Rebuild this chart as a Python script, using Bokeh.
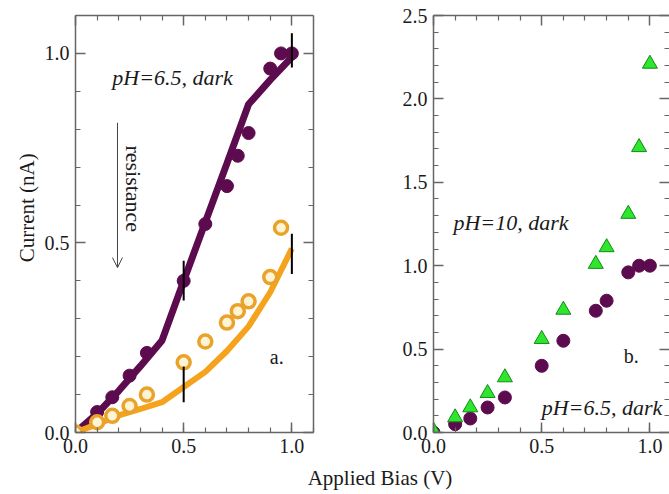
import math
from bokeh.plotting import figure
from bokeh.layouts import row, column
from bokeh.models import (Range1d, LinearAxis, Label, Arrow, OpenHead,
                          SingleIntervalTicker, FixedTicker, PrintfTickFormatter)
from bokeh.embed import file_html
from bokeh.resources import INLINE

# ---------------- data: panel a ----------------
a_purple_x = [0.0, 0.1, 0.17, 0.25, 0.33, 0.5, 0.6, 0.7, 0.75, 0.8, 0.9, 0.95, 1.0]
a_purple_y = [0.0, 0.054, 0.093, 0.15, 0.21, 0.40, 0.55, 0.65, 0.73, 0.79, 0.96, 1.0, 1.0]
a_orange_x = [0.0, 0.1, 0.17, 0.25, 0.33, 0.5, 0.6, 0.7, 0.75, 0.8, 0.9, 0.95]
a_orange_y = [0.0, 0.027, 0.044, 0.07, 0.10, 0.185, 0.24, 0.29, 0.32, 0.346, 0.41, 0.54]
fit_x = [0.0, 0.1, 0.2, 0.3, 0.4, 0.5, 0.6, 0.7, 0.8, 0.9, 1.0]
fit_purple_y = [0.0, 0.05, 0.11, 0.175, 0.243, 0.40, 0.555, 0.71, 0.866, 0.93, 0.99]
fit_orange_y = [0.0, 0.022, 0.045, 0.062, 0.08, 0.12, 0.16, 0.215, 0.28, 0.37, 0.485]
err_x = [0.5, 1.0, 0.5, 1.0]
err_lo = [0.348, 0.963, 0.08, 0.418]
err_hi = [0.453, 1.053, 0.174, 0.524]

# ---------------- data: panel b ----------------
b_purple_x = [0.0, 0.1, 0.17, 0.25, 0.33, 0.5, 0.6, 0.75, 0.8, 0.9, 0.95, 1.0]
b_purple_y = [0.0, 0.05, 0.084, 0.15, 0.21, 0.40, 0.55, 0.73, 0.79, 0.96, 1.0, 1.0]
b_green_x = [0.0, 0.1, 0.17, 0.25, 0.33, 0.5, 0.6, 0.75, 0.8, 0.9, 0.95, 1.0]
b_green_y = [0.01, 0.09, 0.15, 0.236, 0.33, 0.56, 0.735, 1.01, 1.11, 1.31, 1.71, 2.21]

# tick positions for the unlabelled (top / right) frame sides
x_major_ticks = [0.0, 0.5, 1.0]
x_minor_ticks = [0.1, 0.2, 0.3, 0.4, 0.6, 0.7, 0.8, 0.9]
ya_major_ticks = [0.0, 0.5, 1.0]
ya_minor_ticks = [0.1, 0.2, 0.3, 0.4, 0.6, 0.7, 0.8, 0.9]
yb_major_ticks = [0.0, 0.5, 1.0, 1.5, 2.0, 2.5]
yb_minor_ticks = [0.1, 0.2, 0.3, 0.4, 0.6, 0.7, 0.8, 0.9, 1.1, 1.2, 1.3, 1.4,
                  1.6, 1.7, 1.8, 1.9, 2.1, 2.2, 2.3, 2.4]

PURPLE = "#5c0c4e"
ORANGE = "#f5a21c"
GREEN = "#2ee62e"
FRAME = "#666666"
FONT = "Liberation Serif"
TXT = "#1a1a1a"


def label_axis(interval=0.5):
    ax = LinearAxis(ticker=SingleIntervalTicker(interval=interval, num_minor_ticks=5),
                    formatter=PrintfTickFormatter(format="%.1f"))
    ax.axis_line_color = FRAME
    ax.axis_line_width = 1.5
    ax.major_tick_in = 10
    ax.major_tick_out = 0
    ax.minor_tick_in = 5
    ax.minor_tick_out = 0
    ax.major_tick_line_color = FRAME
    ax.minor_tick_line_color = FRAME
    ax.major_tick_line_width = 1.5
    ax.minor_tick_line_width = 1.2
    ax.major_label_text_font = FONT
    ax.major_label_text_color = TXT
    ax.major_label_text_font_size = "20px"
    ax.major_label_standoff = 6
    return ax


def tick_axis(positions, length, line=True):
    ax = LinearAxis(ticker=FixedTicker(ticks=[], minor_ticks=positions))
    ax.axis_line_color = FRAME if line else None
    ax.axis_line_width = 1.5
    ax.major_tick_in = 0
    ax.major_tick_out = 0
    ax.minor_tick_in = length
    ax.minor_tick_out = 0
    ax.minor_tick_line_color = FRAME
    ax.minor_tick_line_width = 1.5 if length > 6 else 1.2
    ax.major_label_standoff = 0
    return ax


def make_fig(width, xr, yr, bl, br):
    p = figure(width=width, height=462, x_range=xr, y_range=yr,
               toolbar_location=None, output_backend="svg",
               x_axis_type=None, y_axis_type=None,
               min_border_left=bl, min_border_right=br,
               min_border_top=15, min_border_bottom=30)
    p.outline_line_color = None
    p.background_fill_color = "white"
    p.border_fill_color = "white"
    return p


def text_strip(width, height):
    p = figure(width=width, height=height, x_range=Range1d(0, width),
               y_range=Range1d(0, height), toolbar_location=None,
               output_backend="svg", x_axis_type=None, y_axis_type=None,
               min_border=0)
    p.outline_line_color = None
    return p


# ---------------- y-axis title strip ----------------
p0 = text_strip(40, 462)
p0.add_layout(Label(x=26, y=462 - 213, text="Current (nA)", text_font=FONT,
                    text_font_size="21px", angle=math.pi / 2,
                    text_align="center", text_baseline="middle", text_color=TXT))

# ---------------- panel a ----------------
p1 = make_fig(340, Range1d(0, 1.1), Range1d(0, 1.1), 35, 67)
p1.add_layout(label_axis(), "left")
p1.add_layout(label_axis(), "below")
p1.add_layout(tick_axis(x_major_ticks, 10), "above")
p1.add_layout(tick_axis(x_minor_ticks, 5, line=False), "above")
p1.add_layout(tick_axis(ya_major_ticks, 10), "right")
p1.add_layout(tick_axis(ya_minor_ticks, 5, line=False), "right")

p1.line(fit_x, fit_purple_y, line_color=PURPLE, line_width=7)
p1.scatter(a_purple_x, a_purple_y, size=13, marker="circle",
           fill_color=PURPLE, line_color=PURPLE)
p1.line(fit_x, fit_orange_y, line_color=ORANGE, line_width=6)
p1.scatter(a_orange_x, a_orange_y, size=13, marker="circle",
           fill_color="#fff3d6", line_color="#e9a22a", line_width=3.5)
p1.segment(x0=err_x, y0=err_lo, x1=err_x, y1=err_hi,
           line_color="black", line_width=2)

p1.add_layout(Label(x=0.17, y=0.936, text="pH=6.5, dark", text_font=FONT,
                    text_font_style="italic", text_font_size="22px",
                    text_baseline="middle", text_color=TXT))
p1.add_layout(Label(x=0.268, y=0.643, text="resistance", text_font=FONT,
                    text_font_size="22px", angle=-math.pi / 2,
                    text_align="center", text_baseline="middle", text_color=TXT))
p1.add_layout(Label(x=0.93, y=0.2, text="a.", text_font=FONT,
                    text_font_size="20px", text_align="center",
                    text_baseline="middle", text_color=TXT))
p1.add_layout(Arrow(end=OpenHead(size=10, line_color="#444444", line_width=1),
                    x_start=0.194, y_start=0.817, x_end=0.194, y_end=0.435,
                    line_color="#444444", line_width=1))

# ---------------- panel b ----------------
p2 = make_fig(289, Range1d(0, 1.0906), Range1d(0, 2.5), 53, 0)
p2.add_layout(label_axis(), "left")
p2.add_layout(label_axis(), "below")
p2.add_layout(tick_axis(x_major_ticks, 10), "above")
p2.add_layout(tick_axis(x_minor_ticks, 5, line=False), "above")
p2.add_layout(tick_axis(yb_major_ticks, 10, line=False), "right")
p2.add_layout(tick_axis(yb_minor_ticks, 5, line=False), "right")

p2.scatter(b_purple_x, b_purple_y, size=13, marker="circle",
           fill_color=PURPLE, line_color=PURPLE)
p2.scatter(b_green_x, b_green_y, size=15, marker="triangle",
           fill_color=GREEN, line_color="#128a12", line_width=1)

p2.add_layout(Label(x=0.092, y=1.26, text="pH=10, dark", text_font=FONT,
                    text_font_style="italic", text_font_size="22px",
                    text_baseline="middle", text_color=TXT))
p2.add_layout(Label(x=0.914, y=0.46, text="b.", text_font=FONT,
                    text_font_size="20px", text_align="center",
                    text_baseline="middle", text_color=TXT))
p2.add_layout(Label(x=0.50, y=0.15, text="pH=6.5, dark", text_font=FONT,
                    text_font_style="italic", text_font_size="22px",
                    text_baseline="middle", text_color=TXT))

# ---------------- shared x label ----------------
p3 = text_strip(669, 30)
p3.add_layout(Label(x=379.5, y=15, text="Applied Bias (V)", text_font=FONT,
                    text_font_size="21px", text_align="center",
                    text_baseline="middle", text_color=TXT))

layout = column(row(p0, p1, p2), p3)
open("out.html", "w").write(file_html(layout, INLINE))
